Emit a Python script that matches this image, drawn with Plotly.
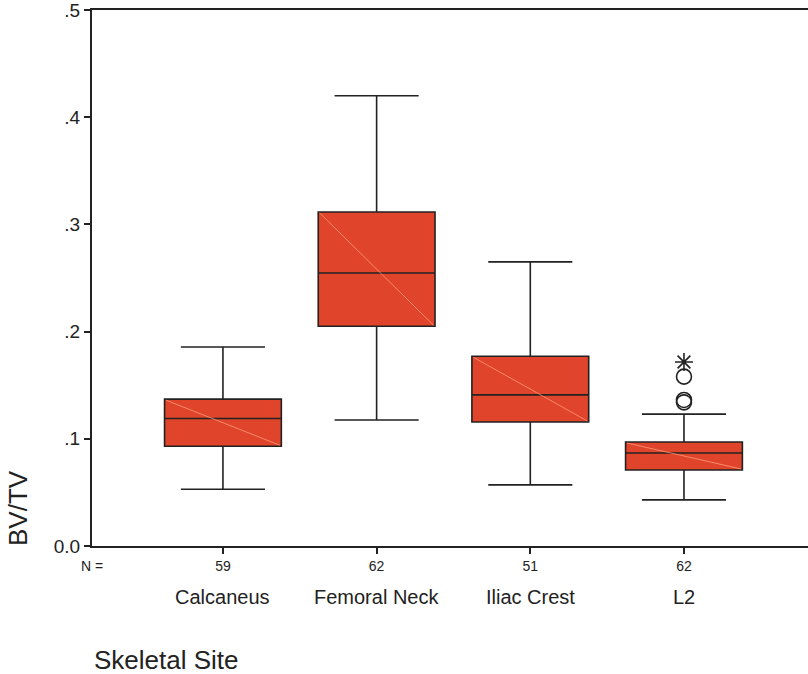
import plotly.graph_objects as go

# Bone volume fraction (BV/TV) by skeletal site
sites = ["Calcaneus", "Femoral Neck", "Iliac Crest", "L2"]
n_counts = [59, 62, 51, 62]
lower_whisker = [0.053, 0.1175, 0.057, 0.043]
q1_vals = [0.093, 0.205, 0.1157, 0.0709]
median_vals = [0.119, 0.2547, 0.141, 0.0868]
q3_vals = [0.137, 0.3116, 0.177, 0.097]
upper_whisker = [0.1856, 0.420, 0.265, 0.123]

# L2 extreme points: circles = outliers, star = extreme value
outlier_site = [3, 3, 3]
outlier_vals = [0.158, 0.1362, 0.134]
extreme_site = [3]
extreme_vals = [0.1716]

y_tick_vals = [0.0, 0.1, 0.2, 0.3, 0.4, 0.5]
y_tick_text = ["0.0", ".1", ".2", ".3", ".4", ".5"]

FONT = "Liberation Sans, Arial, sans-serif"
INK = "#222222"
FILL = "#E0442A"
BOX_W = 0.76

xs = list(range(len(sites)))

fig = go.Figure()

fig.add_trace(go.Box(
    x=xs,
    q1=q1_vals,
    median=median_vals,
    q3=q3_vals,
    lowerfence=lower_whisker,
    upperfence=upper_whisker,
    width=BOX_W,
    whiskerwidth=0.72,
    fillcolor=FILL,
    line=dict(color=INK, width=1.6),
    boxpoints=False,
    hoverinfo="skip",
    showlegend=False,
))

# faint diagonal sheen across each box (top-left to bottom-right)
for i in xs:
    fig.add_trace(go.Scatter(
        x=[i - BOX_W / 2 + 0.01, i + BOX_W / 2 - 0.01],
        y=[q3_vals[i] - 0.001, q1_vals[i] + 0.001],
        mode="lines",
        line=dict(color="rgba(255,160,130,0.75)", width=1),
        hoverinfo="skip",
        showlegend=False,
    ))

fig.add_trace(go.Scatter(
    x=outlier_site, y=outlier_vals, mode="markers",
    marker=dict(symbol="circle-open", size=15, color=INK, line=dict(width=1.6)),
    hoverinfo="skip", showlegend=False,
))
fig.add_trace(go.Scatter(
    x=extreme_site, y=extreme_vals, mode="markers",
    marker=dict(symbol="asterisk-open", size=15, color=INK, line=dict(width=1.6)),
    hoverinfo="skip", showlegend=False,
))

annotations = []
for i, name in enumerate(sites):
    annotations.append(dict(
        x=i, y=0, xref="x", yref="paper", text=name, showarrow=False,
        yanchor="middle", yshift=-51, font=dict(family=FONT, size=20, color=INK),
    ))
annotations.append(dict(
    x=0, y=0, xref="paper", yref="paper", text="N =", showarrow=False,
    xanchor="center", yanchor="middle", yshift=-20,
    font=dict(family=FONT, size=14, color=INK),
))
annotations.append(dict(
    x=0, y=0, xref="paper", yref="paper", text="Skeletal Site", showarrow=False,
    xanchor="left", yanchor="middle", yshift=-114,
    font=dict(family=FONT, size=26, color=INK),
))
annotations.append(dict(
    x=0, y=0, xref="paper", yref="paper", text="BV/TV", showarrow=False,
    textangle=-90, xanchor="center", yanchor="bottom", xshift=-74, yshift=-2,
    font=dict(family=FONT, size=26, color=INK),
))

fig.update_layout(
    width=808, height=674,
    margin=dict(l=92, r=0, t=10, b=128),
    paper_bgcolor="white", plot_bgcolor="white",
    font=dict(family=FONT, color=INK),
    annotations=annotations,
    xaxis=dict(
        range=[-0.852, 3.807],
        tickvals=xs, ticktext=[str(n) for n in n_counts],
        tickfont=dict(family=FONT, size=14, color=INK),
        ticks="outside", ticklen=6, tickwidth=1.5, tickcolor=INK,
        showline=True, linecolor=INK, linewidth=2, mirror=True,
        showgrid=False, zeroline=False, fixedrange=True,
    ),
    yaxis=dict(
        range=[0, 0.5],
        tickvals=y_tick_vals, ticktext=y_tick_text,
        tickfont=dict(family=FONT, size=19, color=INK),
        ticklabeloverflow="allow",
        ticks="outside", ticklen=6, tickwidth=1.5, tickcolor=INK,
        showline=True, linecolor=INK, linewidth=2,
        showgrid=False, zeroline=False, fixedrange=True,
    ),
)

fig.write_html("out.html")
